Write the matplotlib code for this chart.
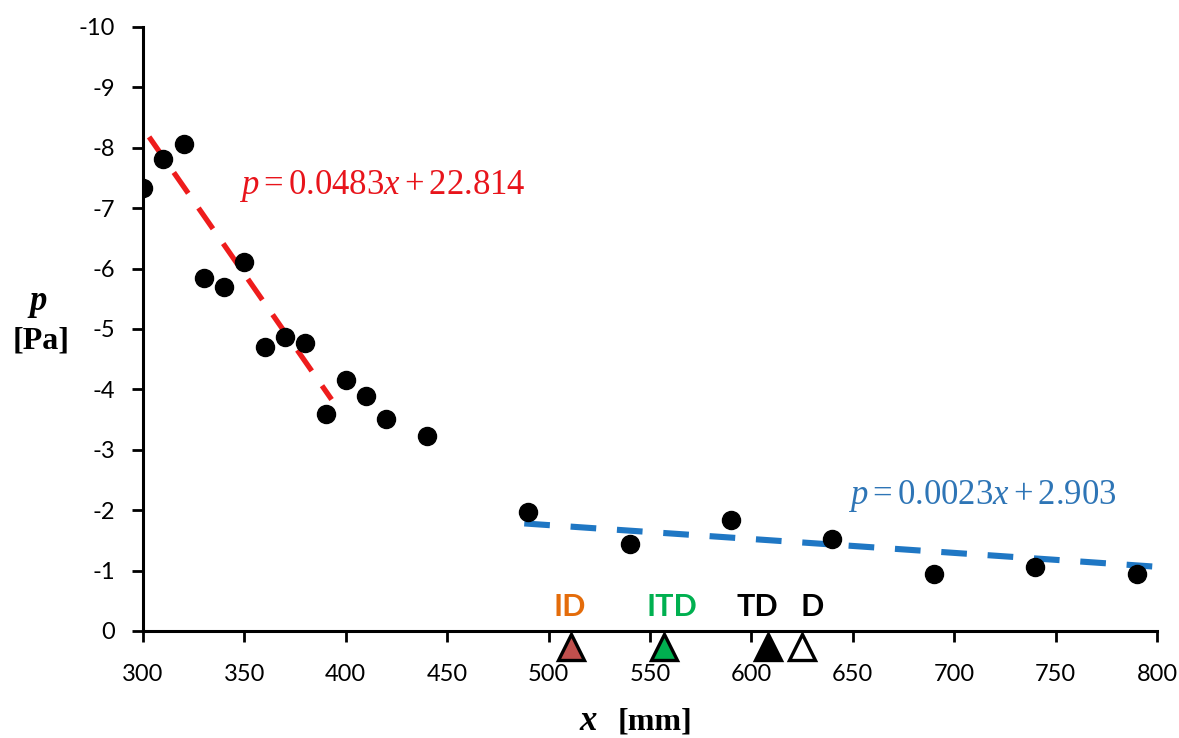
import numpy as np
import matplotlib
matplotlib.use('Agg')
import matplotlib.pyplot as plt

plt.rcParams['axes.unicode_minus'] = False
plt.rcParams['mathtext.fontset'] = 'custom'
plt.rcParams['mathtext.rm'] = 'Liberation Serif'
plt.rcParams['mathtext.it'] = 'Liberation Serif:italic'

## measured points
x_pts = [300, 310, 320, 330, 340, 350, 360, 370, 380, 390, 400, 410, 420, 440,
         490, 540, 590, 640, 690, 740, 790]
p_pts = [-7.33, -7.81, -8.06, -5.84, -5.70, -6.11, -4.70, -4.87, -4.77, -3.59,
         -4.16, -3.89, -3.51, -3.23,
         -1.97, -1.44, -1.84, -1.52, -0.94, -1.06, -0.94]

## linear fits (slope, intercept, x range)
fit_red = (0.0483, -22.814, 303, 393)
fit_blue = (0.0023, -2.903, 488, 798)

## marker positions on the axis
mark_names = ['ID', 'ITD', 'TD', 'D']
mark_x = [511, 557, 608, 625]
label_x = [510.5, 561, 603, 630]
mark_fill = ['#C0504D', '#00B050', 'black', 'white']
label_col = ['#E46C0A', '#00B050', 'black', 'black']

xticks = np.arange(300, 801, 50)
yticks = np.arange(0, -11, -1)

fig = plt.figure(figsize=(11.79, 7.38), dpi=100)
ax = fig.add_axes([0.1213, 0.145, 0.86, 0.8185])

ax.plot(x_pts, p_pts, 'o', color='black', ms=13, zorder=3)

xr = np.array(fit_red[2:])
ax.plot(xr, fit_red[0]*xr + fit_red[1], color='#EE1C1C', lw=3.8,
        dashes=(4.8, 3.4), zorder=2)
xb = np.array(fit_blue[2:])
ax.plot(xb, fit_blue[0]*xb + fit_blue[1], color='#1F77C4', lw=4.4,
        dashes=(4.2, 3.4), zorder=2)

ax.text(347.5, -7.37, r'$p = 0.0483x + 22.814$', color='#E8141B',
        fontsize=25, va='center', ha='left')
ax.text(647.5, -2.24, r'$p = 0.0023x + 2.903$', color='#2E75B6',
        fontsize=25, va='center', ha='left')

for nm, mx, lx, fc, lc in zip(mark_names, mark_x, label_x, mark_fill, label_col):
    ax.plot(mx, 0.26, '^', ms=18.5, mfc=fc, mec='black', mew=2.4,
            clip_on=False, zorder=5)
    ax.text(lx, -0.39, nm, color=lc, fontsize=22, family='Lato',
            weight='bold', ha='center', va='center')

ax.set_xlim(300, 800)
ax.set_ylim(0, -10)
ax.set_xticks(xticks)
ax.set_yticks(yticks)
ax.set_xticklabels([str(v) for v in xticks], family='Lato', fontsize=17)
ax.set_yticklabels([str(v) for v in yticks], family='Lato', fontsize=17)
ax.tick_params(axis='x', direction='out', length=8, width=2, pad=16)
ax.tick_params(axis='y', direction='out', length=8, width=2, pad=12)

for s in ['top', 'right']:
    ax.spines[s].set_visible(False)
for s in ['left', 'bottom']:
    ax.spines[s].set_linewidth(2.2)

## axis labels
fig.text(38/1179, 1 - 302/738, 'p', family='Liberation Serif', style='italic',
         weight='bold', fontsize=25, ha='center', va='center')
fig.text(41/1179, 1 - 341/738, '[Pa]', family='Liberation Serif',
         weight='bold', fontsize=23, ha='center', va='center')
fig.text(588/1179, 1 - 722/738, 'x', family='Liberation Serif', style='italic',
         weight='bold', fontsize=25, ha='center', va='center')
fig.text(655/1179, 1 - 722/738, '[mm]', family='Liberation Serif',
         weight='bold', fontsize=23, ha='center', va='center')

fig.savefig('out.png', dpi=100)
